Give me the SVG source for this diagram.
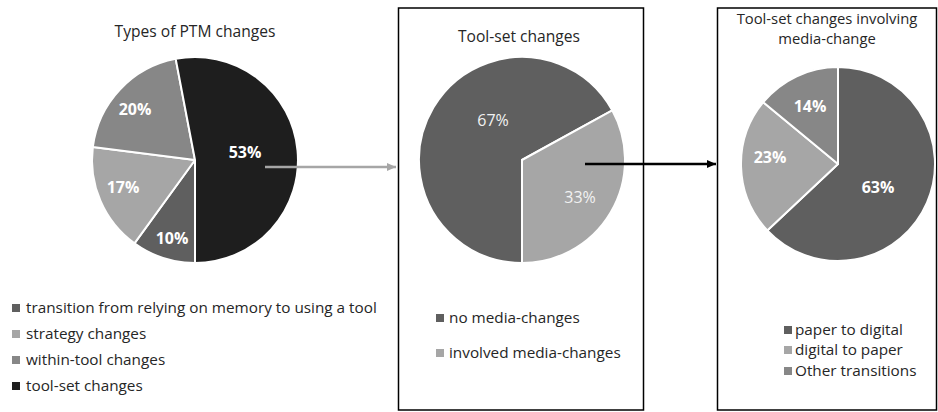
<svg xmlns="http://www.w3.org/2000/svg" width="938" height="412" viewBox="0 0 938 412">
<defs>
<style>
text{font-family:"Open Sans","Liberation Sans",sans-serif;}
.title{font-size:15.6px;fill:#262626;text-anchor:middle;}
.title3{font-size:14.8px;}
.leg{font-size:15.3px;fill:#262626;}
.lbl{font-size:16px;fill:#ffffff;text-anchor:middle;font-weight:bold;}
.lbln{font-size:16px;fill:#f2f2f2;text-anchor:middle;}
.s{stroke:#ffffff;stroke-width:2;stroke-linejoin:round;}
.c1{fill:#5f5f5f;}
.c2{fill:#a6a6a6;}
.c3{fill:#878787;}
.c4{fill:#1e1e1e;}
.box{fill:none;stroke:#000;stroke-width:1.5;}
</style>
<marker id="ag" markerWidth="10" markerHeight="8" refX="9" refY="4" orient="auto" markerUnits="userSpaceOnUse">
<path d="M0,0 L9,4 L0,8 Z" fill="#a6a6a6"/>
</marker>
<marker id="ab" markerWidth="10" markerHeight="8" refX="9" refY="4" orient="auto" markerUnits="userSpaceOnUse">
<path d="M0,0 L9,4 L0,8 Z" fill="#000"/>
</marker>
</defs>
<rect width="938" height="412" fill="#fff"/>

<g id="chart1">
<text class="title" x="195" y="37">Types of PTM changes</text>
<path class="c1 s" d="M195,160 L195,263 A103,103 0 0 1 134.46,243.33 Z"/>
<path class="c2 s" d="M195,160 L134.46,243.33 A103,103 0 0 1 92.81,147.09 Z"/>
<path class="c3 s" d="M195,160 L92.81,147.09 A103,103 0 0 1 175.70,58.82 Z"/>
<path class="c4 s" d="M195,160 L175.70,58.82 A103,103 0 1 1 195,263 Z"/>
<text class="lbl" x="245" y="158">53%</text>
<text class="lbl" x="135" y="115">20%</text>
<text class="lbl" x="123" y="193">17%</text>
<text class="lbl" x="172" y="244">10%</text>
<rect class="c1" x="12" y="304" width="8" height="8"/>
<text class="leg" x="26" y="313">transition from relying on memory to using a tool</text>
<rect class="c2" x="12" y="330" width="8" height="8"/>
<text class="leg" x="26" y="339">strategy changes</text>
<rect class="c3" x="12" y="356" width="8" height="8"/>
<text class="leg" x="26" y="365">within-tool changes</text>
<rect class="c4" x="12" y="382" width="8" height="8"/>
<text class="leg" x="26" y="391">tool-set changes</text>
</g>

<g id="chart2">
<rect class="box" x="398.5" y="8" width="245" height="402"/>
<text class="title" x="519" y="42">Tool-set changes</text>
<path class="c1 s" d="M522,160 L522,263 A103,103 0 1 1 612.26,110.38 Z"/>
<path class="c2 s" d="M522,160 L612.26,110.38 A103,103 0 0 1 522,263 Z"/>
<text class="lbln" x="493" y="126">67%</text>
<text class="lbln" x="580" y="203">33%</text>
<rect class="c1" x="436" y="314" width="8" height="8"/>
<text class="leg" x="449" y="323">no media-changes</text>
<rect class="c2" x="436" y="349" width="8" height="8"/>
<text class="leg" x="449" y="358">involved media-changes</text>
</g>

<g id="chart3">
<rect class="box" x="717.5" y="8" width="219" height="402"/>
<text class="title title3" x="827" y="24">Tool-set changes involving</text>
<text class="title title3" x="827" y="44">media-change</text>
<path class="c1 s" d="M838,164 L838,67 A97,97 0 1 1 767.29,230.40 Z"/>
<path class="c2 s" d="M838,164 L767.29,230.40 A97,97 0 0 1 763.26,102.17 Z"/>
<path class="c3 s" d="M838,164 L763.26,102.17 A97,97 0 0 1 838,67 Z"/>
<text class="lbl" x="810" y="112">14%</text>
<text class="lbl" x="770" y="163">23%</text>
<text class="lbl" x="878" y="193">63%</text>
<rect class="c1" x="784" y="326" width="8" height="8"/>
<text class="leg" x="795" y="335">paper to digital</text>
<rect class="c2" x="784" y="346" width="8" height="8"/>
<text class="leg" x="795" y="355">digital to paper</text>
<rect class="c3" x="784" y="367" width="8" height="8"/>
<text class="leg" x="795" y="376">Other transitions</text>
</g>

<g id="connectors">
<line x1="265" y1="167" x2="396" y2="167" stroke="#a6a6a6" stroke-width="2.5" marker-end="url(#ag)"/>
<line x1="585" y1="164" x2="716" y2="164" stroke="#000" stroke-width="2.5" marker-end="url(#ab)"/>
</g>
</svg>
